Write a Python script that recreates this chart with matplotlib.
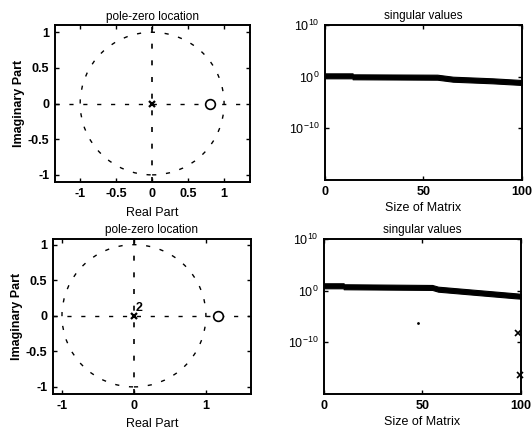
import matplotlib
matplotlib.use("Agg")
import matplotlib.pyplot as plt
from matplotlib.patches import Circle
import numpy as np

plt.rcParams['font.family'] = ['Liberation Sans', 'DejaVu Sans']
plt.rcParams['mathtext.fontset'] = 'custom'
plt.rcParams['mathtext.rm'] = 'Liberation Sans'
plt.rcParams['mathtext.it'] = 'Liberation Sans'
plt.rcParams['mathtext.bf'] = 'Liberation Sans:bold'

# ---- data ----
poles_top = [0.0]
zeros_top = [0.8]
poles_bot = [0.0]
zeros_bot = [1.17]
pole_mult_bot = "2"

sv_x_top = [0, 14, 14, 57, 65, 85, 100]
sv_hi_top = [0.65, 0.65, 0.46, 0.39, 0.0, -0.31, -0.64]   # log10
sv_lo_top = [-0.31, -0.31, -0.50, -0.58, -0.97, -1.28, -1.60]

sv_x_bot = [0, 10, 10, 55, 58, 97, 100]
sv_hi_bot = [1.43, 1.43, 1.24, 1.10, 0.77, -0.50, -0.60]
sv_lo_bot = [0.46, 0.46, 0.27, 0.14, -0.20, -1.47, -1.55]

out_x_bot = [98.5, 99.5]
out_y_bot = [-8.2, -16.3]       # log10
dot_x_bot = [48]
dot_y_bot = [-6.2]

fig = plt.figure(figsize=(5.32, 4.37), dpi=100)

def style(ax):
    for s in ax.spines.values():
        s.set_linewidth(1.4)
    ax.tick_params(direction='in', length=3, width=1, labelsize=9,
                   top=True, right=True, pad=4)
    for lab in ax.get_xticklabels() + ax.get_yticklabels():
        lab.set_fontweight('bold')

def pz(ax, poles, zeros, xlim, ylim, xticks, mult=None):
    dash = (0, (3, 7))
    ax.add_patch(Circle((0, 0), 1, fill=False, linestyle=dash, lw=1, color='k'))
    ax.plot(xlim, [0, 0], linestyle=dash, lw=1, color='k')
    ax.plot([0, 0], ylim, linestyle=dash, lw=1.2, color='k')
    ax.plot(poles, [0]*len(poles), 'kx', ms=5, mew=1.6)
    ax.plot(zeros, [0]*len(zeros), 'o', mfc='white', mec='k', ms=7, mew=1.2)
    if mult:
        ax.text(poles[0] + 0.02, 0.03, mult, fontsize=9, fontweight='bold',
                ha='left', va='bottom')
    ax.set_xlim(xlim)
    ax.set_ylim(ylim)
    ax.set_xticks(xticks)
    ax.set_xticklabels([('%g' % t) for t in xticks])
    ax.set_yticks([-1, -0.5, 0, 0.5, 1])
    ax.set_yticklabels(['-1', '-0.5', '0', '0.5', '1'])
    ax.set_title('pole-zero location', fontsize=8.5, pad=4)
    ax.set_xlabel('Real Part', fontsize=9, labelpad=5)
    ax.set_ylabel('Imaginary Part', fontsize=9, fontweight='bold', labelpad=2)
    style(ax)

def sv(ax, x, hi, lo):
    ax.fill_between(x, 10.0**np.array(lo), 10.0**np.array(hi), color='k', lw=0.8, edgecolor='k')
    ax.set_yscale('log')
    ax.set_xlim(0, 100)
    ax.set_ylim(1e-20, 1e10)
    ax.set_yticks([1e-10, 1e0, 1e10])
    ax.set_yticklabels([r'$10^{-10}$', r'$10^{0}$', r'$10^{10}$'])
    ax.minorticks_off()
    ax.set_xticks([0, 50, 100])
    ax.set_title('singular values', fontsize=8.5, pad=4)
    ax.set_xlabel('Size of Matrix', fontsize=9, labelpad=3)
    style(ax)

ax1 = fig.add_axes([0.1034, 0.5835, 0.3665, 0.359])
pz(ax1, poles_top, zeros_top, (-1.35, 1.36), (-1.1, 1.1), [-1, -0.5, 0, 0.5, 1])

ax2 = fig.add_axes([0.611, 0.588, 0.370, 0.3547])
sv(ax2, sv_x_top, sv_hi_top, sv_lo_top)

ax3 = fig.add_axes([0.0996, 0.0984, 0.372, 0.3547])
pz(ax3, poles_bot, zeros_bot, (-1.125, 1.625), (-1.1, 1.08), [-1, 0, 1], mult=pole_mult_bot)

ax4 = fig.add_axes([0.609, 0.0984, 0.370, 0.3547])
sv(ax4, sv_x_bot, sv_hi_bot, sv_lo_bot)
ax4.plot(out_x_bot, 10.0**np.array(out_y_bot), 'kx', ms=4, mew=1.2, clip_on=False)
ax4.plot(dot_x_bot, 10.0**np.array(dot_y_bot), 'k.', ms=2)

fig.savefig('out.png', dpi=100)
